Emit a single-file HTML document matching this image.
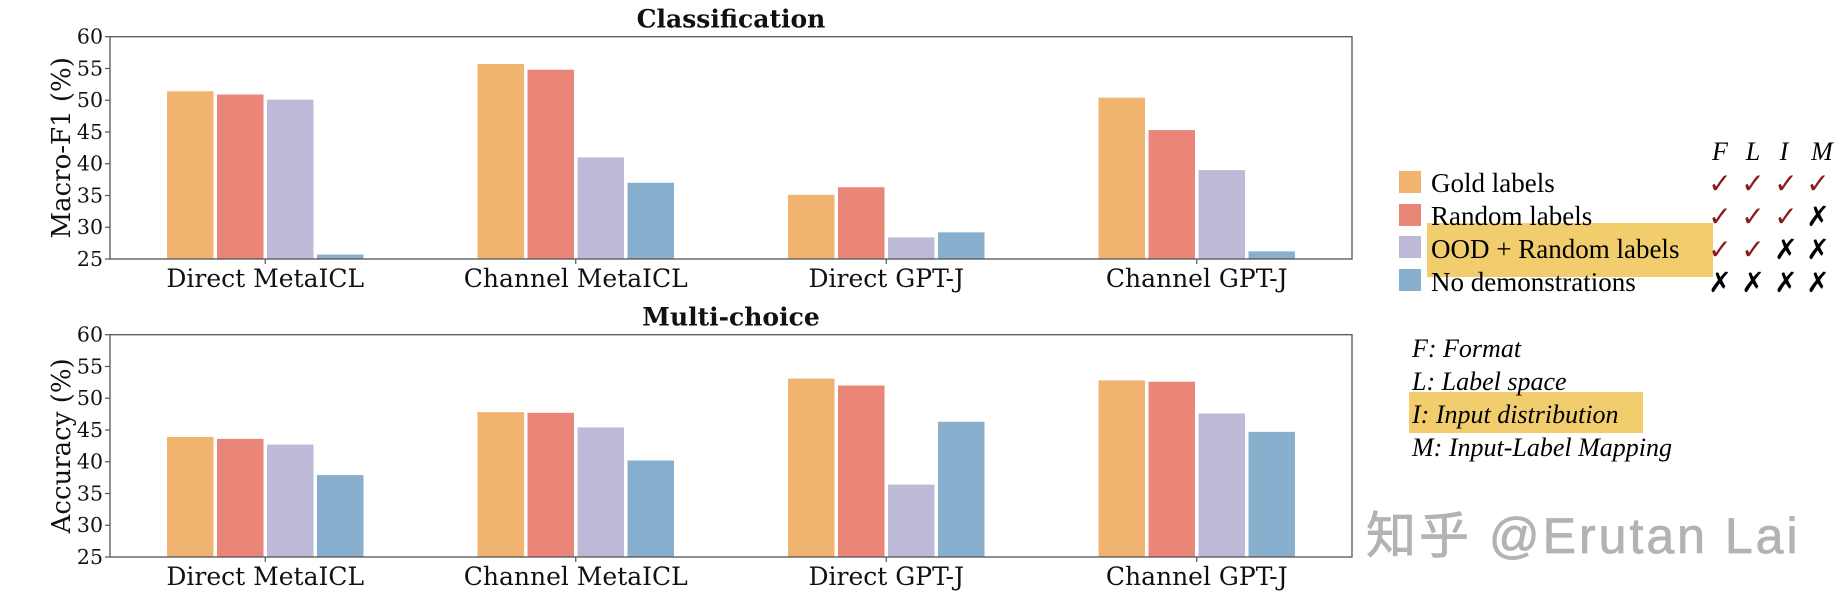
<!DOCTYPE html>
<html><head><meta charset="utf-8">
<style>
html,body{margin:0;padding:0;background:#fff;}
svg{display:block;}
.tick{font-family:"DejaVu Serif",serif;font-size:20.5px;fill:#111;}
.xl{font-family:"DejaVu Serif",serif;font-size:25px;fill:#111;}
.yt{font-family:"DejaVu Serif",serif;font-size:26px;fill:#111;}
.tt{font-family:"DejaVu Serif",serif;font-size:25px;font-weight:bold;fill:#111;}
.lg{font-family:"Liberation Serif",serif;font-size:27px;fill:#000;}
.it{font-family:"Liberation Serif",serif;font-size:26px;font-style:italic;fill:#000;}
.ck{font-family:"DejaVu Sans",sans-serif;font-size:28px;font-weight:bold;}
</style></head>
<body>
<svg id="chart" width="1848" height="606" viewBox="0 0 1848 606" xmlns="http://www.w3.org/2000/svg">
<g id="plots"></g>
<g id="legend">
  <rect x="1427" y="223" width="286" height="54" fill="#f2cd6e"/>
  <rect x="1399" y="171" width="22" height="22" fill="#f0b470"/>
  <rect x="1399" y="204" width="22" height="22" fill="#ea8677"/>
  <rect x="1399" y="236" width="22" height="22" fill="#bdbad7"/>
  <rect x="1399" y="269" width="22" height="22" fill="#89afcf"/>
  <text class="lg" x="1431" y="192">Gold labels</text>
  <text class="lg" x="1431" y="225">Random labels</text>
  <text class="lg" x="1431" y="258">OOD + Random labels</text>
  <text class="lg" x="1431" y="291">No demonstrations</text>
  <g class="it" text-anchor="middle">
    <text x="1720" y="160">F</text><text x="1753" y="160">L</text><text x="1784" y="160">I</text><text x="1822" y="160">M</text>
  </g>
  <g class="ck" text-anchor="middle">
    <text x="1720" y="193" fill="#8b1a1a">✓</text><text x="1753" y="193" fill="#8b1a1a">✓</text><text x="1786" y="193" fill="#8b1a1a">✓</text><text x="1818" y="193" fill="#8b1a1a">✓</text>
    <text x="1720" y="226" fill="#8b1a1a">✓</text><text x="1753" y="226" fill="#8b1a1a">✓</text><text x="1786" y="226" fill="#8b1a1a">✓</text><text x="1818" y="226" fill="#000">✗</text>
    <text x="1720" y="259" fill="#8b1a1a">✓</text><text x="1753" y="259" fill="#8b1a1a">✓</text><text x="1786" y="259" fill="#000">✗</text><text x="1818" y="259" fill="#000">✗</text>
    <text x="1720" y="292" fill="#000">✗</text><text x="1753" y="292" fill="#000">✗</text><text x="1786" y="292" fill="#000">✗</text><text x="1818" y="292" fill="#000">✗</text>
  </g>
  <rect x="1409" y="392" width="234" height="41" fill="#f2cd6e"/>
  <text class="it" x="1412" y="357">F: Format</text>
  <text class="it" x="1412" y="390">L: Label space</text>
  <text class="it" x="1412" y="423">I: Input distribution</text>
  <text class="it" x="1412" y="456">M: Input-Label Mapping</text>
</g>
<text x="1366" y="553" font-family="'Liberation Sans','Noto Sans CJK SC',sans-serif" font-size="50" letter-spacing="3" fill="#b3b3b3" stroke="#b3b3b3" stroke-width="0.8">知乎 @Erutan Lai</text>
</svg>
<script>
const categories = ["Direct MetaICL","Channel MetaICL","Direct GPT-J","Channel GPT-J"];
const seriesNames = ["Gold labels","Random labels","OOD + Random labels","No demonstrations"];
const clsGold = [51.4, 55.7, 35.1, 50.4];
const clsRandom = [50.9, 54.8, 36.3, 45.3];
const clsOOD = [50.1, 41.0, 28.4, 39.0];
const clsNoDemo = [25.7, 37.0, 29.2, 26.2];
const mcGold = [43.9, 47.8, 53.1, 52.8];
const mcRandom = [43.6, 47.7, 52.0, 52.6];
const mcOOD = [42.7, 45.4, 36.4, 47.6];
const mcNoDemo = [37.9, 40.2, 46.3, 44.7];
const yTicks = [25, 30, 35, 40, 45, 50, 55, 60];

const colors = ["#f0b470","#ea8677","#bdbad7","#89afcf"];
const NS = "http://www.w3.org/2000/svg";
const root = document.getElementById("plots");
function mk(tag, attrs, parent){
  const e = document.createElementNS(NS, tag);
  for (const k in attrs) e.setAttribute(k, attrs[k]);
  parent.appendChild(e); return e;
}
function drawPanel(key, title, ytitle, top, bottom, series){
  const L = 110, R = 1352, ymin = 25, ymax = 60;
  const g = mk("g", {}, root);
  
  
  const step = (R - L) / categories.length;
  const xc = i => L + step * (i + 0.5);
  const y = v => bottom - (v - ymin) / (ymax - ymin) * (bottom - top);
  const barStep = step * 0.161, barW = barStep * 0.93;
  series.forEach((arr, s) => {
    arr.forEach((v, i) => {
      const cx = xc(i) + (s - 1.5) * barStep;
      const r = mk("rect", {x: cx - barW/2, y: y(v), width: barW, height: bottom - y(v), fill: colors[s]}, g);
      
      
    });
  });
  const frame = mk("rect", {x: L, y: top, width: R - L, height: bottom - top, fill: "none", stroke: "#555", "stroke-width": 1.3}, g);
  
  
  yTicks.forEach(t => {
    mk("line", {x1: L - 5, x2: L, y1: y(t), y2: y(t), stroke: "#555", "stroke-width": 1.2}, g);
    const tx = mk("text", {x: L - 7, y: y(t) + 7, "text-anchor": "end", class: "tick"}, g);
    tx.textContent = t;
    
    
  });
  categories.forEach((c, i) => {
    mk("line", {x1: xc(i), x2: xc(i), y1: bottom, y2: bottom + 5, stroke: "#555", "stroke-width": 1.2}, g);
    const tx = mk("text", {x: xc(i), y: bottom + 28, "text-anchor": "middle", class: "xl"}, g);
    tx.textContent = c;
    
    
  });
  const yt = mk("text", {x: 0, y: 0, "text-anchor": "middle", class: "yt", transform: `translate(70 ${(top+bottom)/2}) rotate(-90)`}, g);
  yt.textContent = ytitle;
  
  
  const tt = mk("text", {x: (L + R)/2, y: top - 9, "text-anchor": "middle", class: "tt"}, g);
  tt.textContent = title;
  
  
}
drawPanel("classification", "Classification", "Macro-F1 (%)", 36.7, 259, [clsGold, clsRandom, clsOOD, clsNoDemo]);
drawPanel("multichoice", "Multi-choice", "Accuracy (%)", 334.7, 557, [mcGold, mcRandom, mcOOD, mcNoDemo]);
</script>
</body></html>
